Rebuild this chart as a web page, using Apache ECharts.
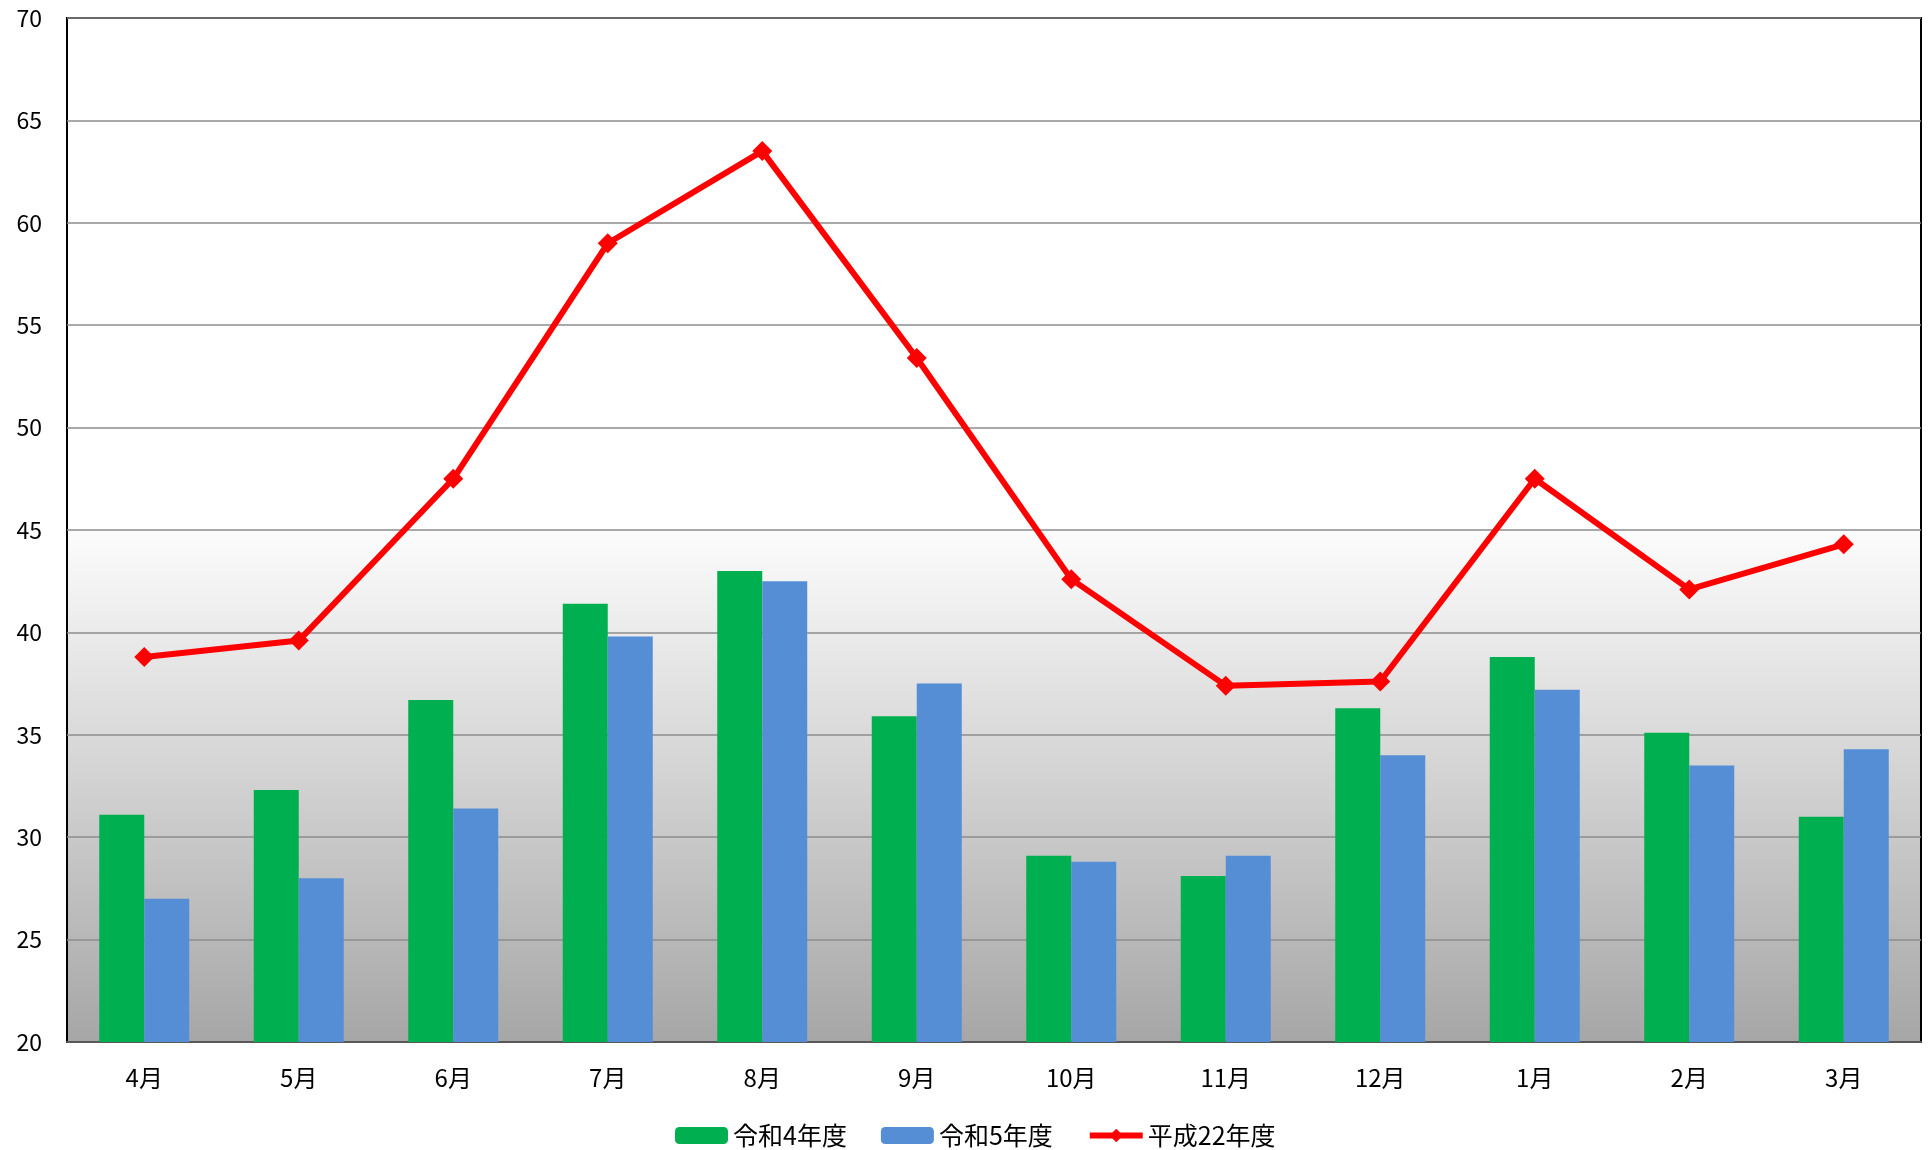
<!DOCTYPE html>
<html>
<head>
<meta charset="utf-8">
<script src="https://cdn.jsdelivr.net/npm/echarts@6/dist/echarts.min.js"></script>
<style>
html,body{margin:0;padding:0;background:#fff;}
#chart{width:1930px;height:1150px;}
</style>
</head>
<body>
<div id="chart"></div>
<script>
const categories = ['4月','5月','6月','7月','8月','9月','10月','11月','12月','1月','2月','3月'];
const seriesNames = ['令和4年度','令和5年度','平成22年度'];
const reiwa4 = [31.1, 32.3, 36.7, 41.4, 43.0, 35.9, 29.1, 28.1, 36.3, 38.8, 35.1, 31.0];
const reiwa5 = [27.0, 28.0, 31.4, 39.8, 42.5, 37.5, 28.8, 29.1, 34.0, 37.2, 33.5, 34.3];
const heisei22 = [38.8, 39.6, 47.5, 59.0, 63.5, 53.4, 42.6, 37.4, 37.6, 47.5, 42.1, 44.3];
const yMin = 20, yMax = 70, yStep = 5;

const FONT = '"Noto Sans CJK JP", "Noto Sans", sans-serif';
const chart = echarts.init(document.getElementById('chart'));
chart.setOption({
  animation: false,
  backgroundColor: '#ffffff',
  textStyle: { fontFamily: FONT, color: '#000' },
  grid: {
    left: 67, right: 9, top: 18, bottom: 108,
    show: true,
    borderColor: '#000',
    borderWidth: 2,
    backgroundColor: {
      type: 'linear', x: 0, y: 0, x2: 0, y2: 1,
      colorStops: [
        { offset: 0, color: '#ffffff' },
        { offset: 0.5, color: '#ffffff' },
        { offset: 0.5, color: '#fcfcfc' },
        { offset: 1, color: '#a6a6a6' }
      ]
    }
  },
  legend: {
    top: 1118,
    left: 670,
    itemWidth: 53,
    itemHeight: 17,
    itemGap: 34,
    textStyle: { fontFamily: FONT, fontSize: 25, color: '#000' },
    data: [
      { name: seriesNames[0] },
      { name: seriesNames[1] },
      { name: seriesNames[2], lineStyle: { width: 6, color: '#FF0000' }, itemStyle: { color: '#FF0000' } }
    ]
  },
  xAxis: {
    type: 'category',
    data: categories,
    axisTick: { show: false },
    axisLine: { show: true, lineStyle: { color: '#595959', width: 2 } },
    axisLabel: { fontFamily: FONT, fontSize: 24, color: '#000', margin: 24 },
    splitLine: { show: false }
  },
  yAxis: {
    type: 'value',
    min: yMin, max: yMax, interval: yStep,
    axisLine: { show: false },
    axisTick: { show: false },
    axisLabel: { fontFamily: FONT, fontSize: 23, color: '#000', margin: 25 },
    splitLine: { show: true, lineStyle: { color: '#8c8c8c', width: 1.5 } }
  },
  series: [
    {
      name: seriesNames[0], type: 'bar', data: reiwa4,
      barWidth: 45, barGap: '0%',
      itemStyle: { color: '#00B050' }
    },
    {
      name: seriesNames[1], type: 'bar', data: reiwa5,
      barWidth: 45, barGap: '0%',
      itemStyle: { color: '#558ED5' }
    },
    {
      name: seriesNames[2], type: 'line', data: heisei22,
      symbol: 'diamond', symbolSize: 20,
      lineStyle: { color: '#FF0000', width: 6 },
      itemStyle: { color: '#FF0000' },
      z: 5
    }
  ]
});
</script>
</body>
</html>
